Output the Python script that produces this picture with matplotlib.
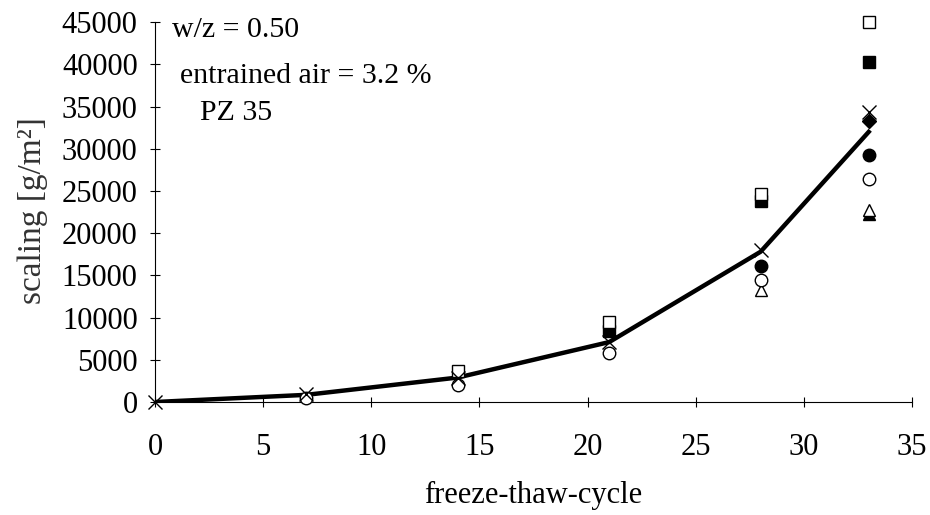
import numpy as np
import matplotlib.pyplot as plt

plt.rcParams['font.family'] = ['Liberation Serif', 'DejaVu Serif']

# freeze-thaw cycles
cycles = [0, 7, 14, 21, 28, 33]

# scaling values [g/m2] per specimen (nan = not visible in the original)
nan = np.nan
open_square = [nan, nan, 3650, 9500, 24600, 45000]
filled_square = [nan, nan, nan, 8400, 23800, 40300]
cross = [0, 1000, 2800, 7100, 18000, 34400]
filled_diamond = [nan, nan, nan, nan, nan, 33300]
filled_circle = [nan, nan, nan, nan, 16100, 29300]
open_circle = [nan, 450, 2000, 5800, 14500, 26400]
filled_triangle = [nan, nan, nan, nan, nan, 22300]
open_triangle = [nan, nan, nan, nan, 13300, 22700]

# mean curve
mean_scaling = [0, 850, 2900, 7100, 17800, 32000]

fig = plt.figure(figsize=(9.3, 5.15), dpi=100)
ax = fig.add_axes([0.1667, 0.2194, 0.8139, 0.7376])

ax.plot(cycles, mean_scaling, color='black', linewidth=3.2, zorder=2)

ms = 9
ax.plot(cycles, filled_triangle, linestyle='none', marker='^', ms=ms, color='black', zorder=3)
ax.plot(cycles, filled_diamond, linestyle='none', marker='D', ms=7, color='black', zorder=3)
ax.plot(cycles, filled_circle, linestyle='none', marker='o', ms=ms, color='black', zorder=3)
ax.plot(cycles, filled_square, linestyle='none', marker='s', ms=ms, color='black', zorder=3)
ax.plot(cycles, open_triangle, linestyle='none', marker='^', ms=ms, mfc='white', mec='black', mew=1, zorder=4)
ax.plot(cycles, open_circle, linestyle='none', marker='o', ms=ms, mfc='white', mec='black', mew=1, zorder=4, clip_on=False)
ax.plot(cycles, open_square, linestyle='none', marker='s', ms=ms, mfc='white', mec='black', mew=1, zorder=4, clip_on=False)
ax.plot(cycles, cross, linestyle='none', marker='x', ms=10, color='black', mew=1, zorder=5, clip_on=False)

ax.set_xlim(0, 35)
ax.set_ylim(0, 45000)
ax.set_xticks(range(0, 36, 5))
ax.set_yticks(range(0, 45001, 5000))
ax.spines['top'].set_visible(False)
ax.spines['right'].set_visible(False)
ax.tick_params(axis='x', direction='inout', length=7, labelsize=22, pad=19)
ax.tick_params(axis='y', direction='inout', length=7, labelsize=22, pad=9)

ax.set_xlabel('freeze-thaw-cycle', fontsize=22)
ax.xaxis.set_label_coords(0.5, -0.245)
ax.xaxis.label.set_va('center')
ax.set_ylabel('scaling [g/m²]', fontsize=24, color='#333333')
ax.yaxis.set_label_coords(-0.162, 0.505)
ax.yaxis.label.set_va('center')

ax.text(0.8, 43200, 'w/z = 0.50', fontsize=21.5, va='baseline')
ax.text(1.15, 37800, 'entrained air = 3.2 %', fontsize=21.5, va='baseline')
ax.text(2.1, 33400, 'PZ 35', fontsize=21.5, va='baseline')

fig.savefig('out.png', dpi=100)
